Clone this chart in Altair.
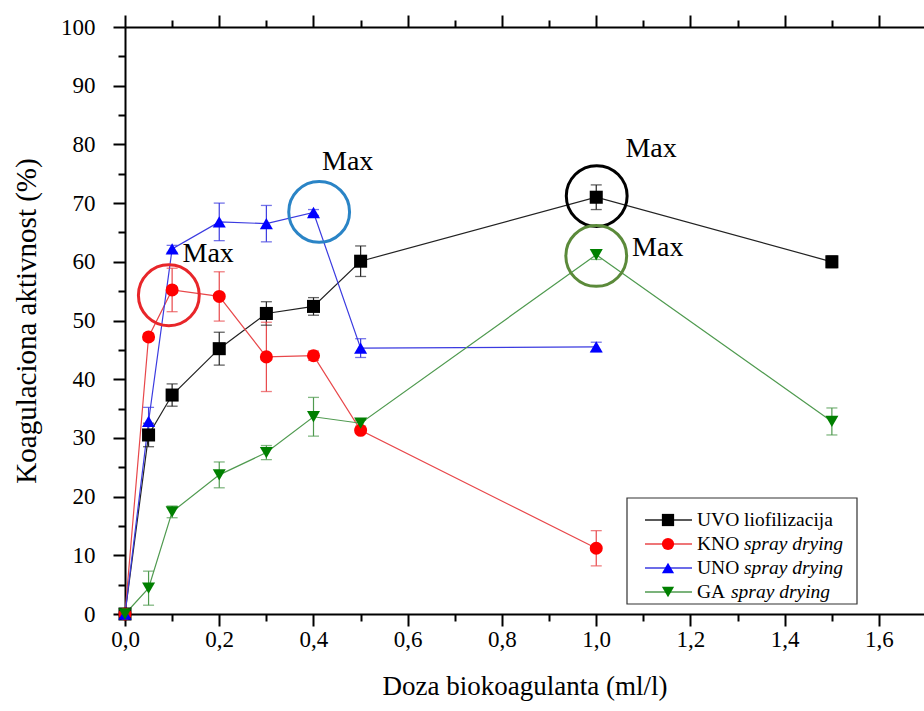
import altair as alt
import pandas as pd

# ---------------- data ----------------
series_names = ["UVO liofilizacija", "KNO spray drying", "UNO spray drying", "GA spray drying"]
series_keys = ["UVO", "KNO", "UNO", "GA"]

x_uvo = [0, 0.05, 0.1, 0.2, 0.3, 0.4, 0.5, 1.0, 1.5]
y_uvo = [0, 30.5, 37.3, 45.2, 51.2, 52.4, 60.1, 71.0, 60.0]
e_uvo = [0, 2.0, 1.9, 2.8, 2.0, 1.5, 2.6, 2.1, 1.0]

x_kno = [0, 0.05, 0.1, 0.2, 0.3, 0.4, 0.5, 1.0]
y_kno = [0, 47.2, 55.2, 54.1, 43.8, 44.0, 31.3, 11.2]
e_kno = [0, 0.6, 3.7, 4.2, 5.9, 0.8, 0.5, 3.0]

x_uno = [0, 0.05, 0.1, 0.2, 0.3, 0.4, 0.5, 1.0]
y_uno = [0, 32.8, 62.2, 66.8, 66.5, 68.4, 45.3, 45.5]
e_uno = [0, 2.4, 0.6, 3.2, 3.1, 0.5, 1.6, 0.8]

x_ga = [0, 0.05, 0.1, 0.2, 0.3, 0.4, 0.5, 1.0, 1.5]
y_ga = [0, 4.4, 17.4, 23.7, 27.5, 33.6, 32.5, 61.2, 32.8]
e_ga = [0, 2.9, 1.0, 2.2, 1.2, 3.3, 0.5, 0.8, 2.3]

# "Max" annotations (circles around maxima and labels)
ann_keys = ["KNO", "UNO", "UVO", "GA"]
ann_x = [0.093, 0.412, 1.001, 1.0]
ann_y = [54.3, 68.5, 71.2, 61.0]
max_x = [0.122, 0.418, 1.062, 1.076]
max_y = [61.3, 77.0, 79.2, 62.3]

x_major = [round(i * 0.2, 1) for i in range(0, 9)]
x_minor = [round(0.1 + i * 0.2, 1) for i in range(0, 8)]
y_major = list(range(0, 101, 10))
y_minor = list(range(5, 100, 10))

# ---------------- style ----------------
FONT = "Liberation Serif"
W, H = 799, 587
XMAX = 1.6955
PL, PT = 125, 27
marker_colors = ["#000000", "#ff0000", "#0000ff", "#008000"]
line_colors = ["#222222", "#e8474a", "#3b3be0", "#4f9a4f"]
shapes = ["square", "circle", "triangle-up", "triangle-down"]
ann_colors = ["#e8262a", "#2a84c6", "#000000", "#5b8a3a"]

rows = []
for key, xs_, ys_, es_ in [("UVO", x_uvo, y_uvo, e_uvo), ("KNO", x_kno, y_kno, e_kno),
                           ("UNO", x_uno, y_uno, e_uno), ("GA", x_ga, y_ga, e_ga)]:
    for xv, yv, ev in zip(xs_, ys_, es_):
        rows.append({"s": key, "x": xv, "y": yv, "lo": yv - ev, "hi": yv + ev, "e": ev})
df = pd.DataFrame(rows)
ann_df = pd.DataFrame({"s": ann_keys, "x": ann_x, "y": ann_y})
max_df = pd.DataFrame({"x": max_x, "y": max_y, "t": ["Max"] * len(max_x)})

xs = alt.Scale(domain=[0, XMAX], nice=False, zero=False)
ys = alt.Scale(domain=[0, 100], nice=False, zero=False)

tick_common = dict(tickWidth=2, tickColor="black", grid=False)

ax_bottom = alt.Axis(
    orient="bottom", values=x_major, title="Doza biokoagulanta (ml/l)",
    labelExpr="replace(format(datum.value, '.1f'), '.', ',')",
    tickSize=12, domainWidth=2, domainColor="black",
    labelFont=FONT, labelFontSize=23, labelColor="black", labelPadding=2,
    labelOverlap=False, labelFlush=False,
    titleFont=FONT, titleFontSize=27, titleFontWeight="normal", titleColor="black", titlePadding=22,
    **tick_common,
)
ax_bottom_minor = alt.Axis(orient="bottom", values=x_minor, title=None, labels=False, tickSize=7,
                           domain=False, **tick_common)
ax_top = alt.Axis(orient="top", values=x_major, title=None, labels=False, tickSize=12,
                  domainWidth=2, domainColor="black", **tick_common)
ax_top_minor = alt.Axis(orient="top", values=x_minor, title=None, labels=False, tickSize=7,
                        domain=False, **tick_common)
ax_left = alt.Axis(
    orient="left", values=y_major, title="Koagulaciona aktivnost (%)",
    tickSize=12, domainWidth=2, domainColor="black",
    labelFont=FONT, labelFontSize=23, labelColor="black", labelPadding=18,
    labelOverlap=False, labelFlush=False,
    titleFont=FONT, titleFontSize=29, titleFontWeight="normal", titleColor="black", titlePadding=19,
    **tick_common,
)
ax_left_minor = alt.Axis(orient="left", values=y_minor, title=None, labels=False, tickSize=7,
                         domain=False, **tick_common)

color_line = alt.Color("s:N", scale=alt.Scale(domain=series_keys, range=line_colors), legend=None)
color_mark = alt.Color("s:N", scale=alt.Scale(domain=series_keys, range=marker_colors), legend=None)

base = alt.Chart(df)

lines = base.mark_line(strokeWidth=1.2).encode(
    x=alt.X("x:Q", scale=xs, axis=ax_bottom),
    y=alt.Y("y:Q", scale=ys, axis=ax_left),
    color=color_line,
    detail="s:N",
    order="x:Q",
)


def axis_layer(xaxis, yaxis):
    return base.mark_point(opacity=0).encode(
        x=alt.X("x:Q", scale=xs, axis=xaxis),
        y=alt.Y("y:Q", scale=ys, axis=yaxis),
    )


axes_extra = [
    axis_layer(ax_bottom_minor, ax_left_minor),
    axis_layer(ax_top, None),
    axis_layer(ax_top_minor, None),
]

err_df = base.transform_filter("datum.e > 0")
err_rules = err_df.mark_rule(strokeWidth=1.2).encode(
    x=alt.X("x:Q", scale=xs, axis=None),
    y=alt.Y("lo:Q", scale=ys, axis=None),
    y2="hi:Q",
    color=color_line,
)
caps_hi = err_df.mark_tick(orient="horizontal", size=11, thickness=1.3).encode(
    x=alt.X("x:Q", scale=xs, axis=None),
    y=alt.Y("hi:Q", scale=ys, axis=None),
    color=color_line,
)
caps_lo = err_df.mark_tick(orient="horizontal", size=11, thickness=1.3).encode(
    x=alt.X("x:Q", scale=xs, axis=None),
    y=alt.Y("lo:Q", scale=ys, axis=None),
    color=color_line,
)

points = base.mark_point(filled=True, size=170, opacity=1).encode(
    x=alt.X("x:Q", scale=xs, axis=None),
    y=alt.Y("y:Q", scale=ys, axis=None),
    color=color_mark,
    shape=alt.Shape("s:N", scale=alt.Scale(domain=series_keys, range=shapes), legend=None),
)

circles = alt.Chart(ann_df).mark_point(shape="circle", filled=False, size=3700, strokeWidth=3, opacity=1).encode(
    x=alt.X("x:Q", scale=xs, axis=None),
    y=alt.Y("y:Q", scale=ys, axis=None),
    color=alt.Color("s:N", scale=alt.Scale(domain=ann_keys, range=ann_colors), legend=None),
)

max_text = alt.Chart(max_df).mark_text(font=FONT, fontSize=28, align="left", baseline="middle", color="black").encode(
    x=alt.X("x:Q", scale=xs, axis=None),
    y=alt.Y("y:Q", scale=ys, axis=None),
    text="t:N",
)

# ---------------- legend (drawn by hand: part of the label is italic) ----------------
one = pd.DataFrame({"a": [0]})
LX0, LX1, LY0, LY1 = 627 - PL, 857 - PL, 498 - PT, 604 - PT
legend_layers = [
    alt.Chart(one).mark_rect(fill="white", stroke="#333333", strokeWidth=1.2).encode(
        x=alt.value(LX0), x2=alt.value(LX1), y=alt.value(LY0), y2=alt.value(LY1))
]
prefix_w = {"UVO": 0, "KNO": 47, "UNO": 47, "GA": 34}
for i, key in enumerate(series_keys):
    yy = 520 - PT + 24 * i
    name = series_names[i]
    legend_layers.append(alt.Chart(one).mark_rule(color=line_colors[i], strokeWidth=1.5).encode(
        x=alt.value(645 - PL), x2=alt.value(692 - PL), y=alt.value(yy)))
    legend_layers.append(alt.Chart(one).mark_point(shape=shapes[i], filled=True, size=150,
                                                   color=marker_colors[i], opacity=1).encode(
        x=alt.value(668 - PL), y=alt.value(yy)))
    tx = 697 - PL
    if key == "UVO":
        legend_layers.append(alt.Chart(one).mark_text(text=name, font=FONT, fontSize=19.5, align="left",
                                                      baseline="middle", color="black").encode(
            x=alt.value(tx), y=alt.value(yy)))
    else:
        plain, ital = name.split(" ", 1)
        legend_layers.append(alt.Chart(one).mark_text(text=plain, font=FONT, fontSize=19.5, align="left",
                                                      baseline="middle", color="black").encode(
            x=alt.value(tx), y=alt.value(yy)))
        legend_layers.append(alt.Chart(one).mark_text(text=ital, font=FONT, fontSize=19.5, align="left",
                                                      fontStyle="italic", baseline="middle", color="black").encode(
            x=alt.value(tx + prefix_w[key]), y=alt.value(yy)))

chart = alt.layer(
    lines, *axes_extra, err_rules, caps_hi, caps_lo, points, circles, max_text, *legend_layers
).resolve_axis(x="independent", y="independent").resolve_scale(
    color="independent", shape="independent"
).properties(
    width=W, height=H, autosize="none",
    padding={"left": PL, "top": PT, "right": 0, "bottom": 97},
).configure_view(stroke=None).configure(background="white")

chart.save("out.html", embed_options={"renderer": "svg", "actions": False})
